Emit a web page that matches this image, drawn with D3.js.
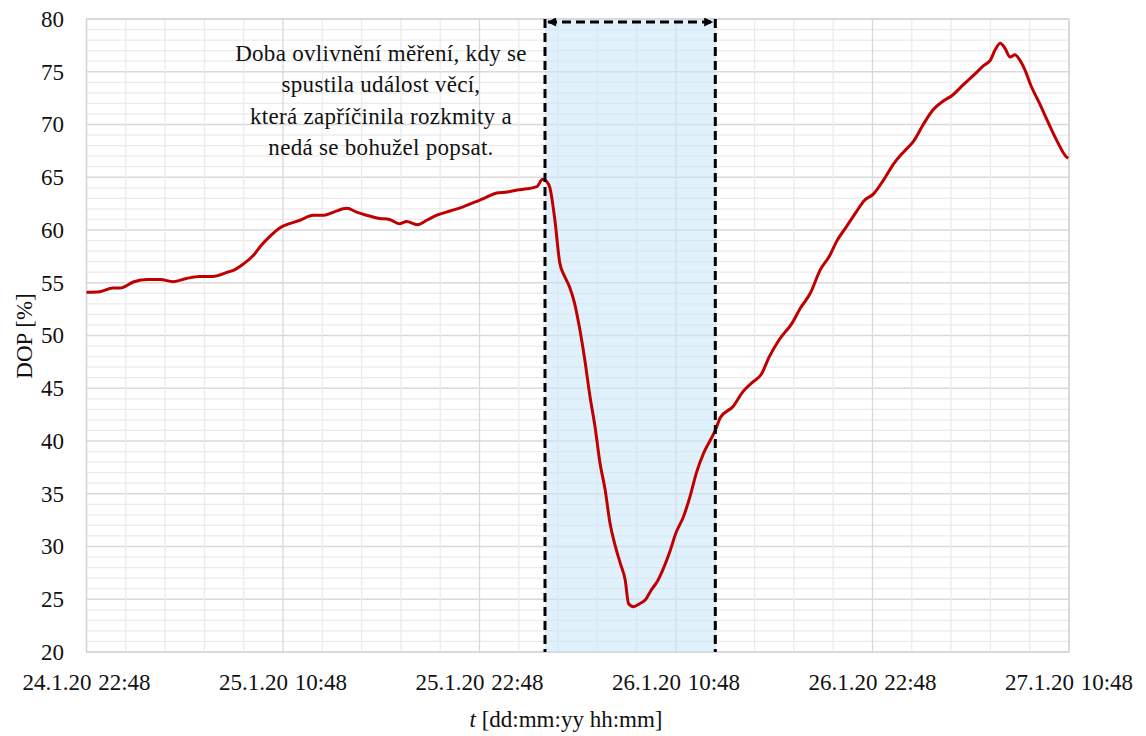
<!DOCTYPE html>
<html>
<head>
<meta charset="utf-8">
<script src="https://cdn.jsdelivr.net/npm/d3@7"></script>
<style>
  body { margin: 0; background: #fff; }
</style>
</head>
<body>
<div id="chart"></div>
<script>
// hours after 24.1.20 22:48
var hours = [0, 0.8, 1.6, 2.05, 2.9, 3.7, 4.5, 5.3, 6.1, 6.9, 7.7, 8.6, 9.0, 9.6, 10.2, 10.7, 11.2, 11.8,
  12.4, 13.0, 13.85, 14.5, 15.1, 15.9, 16.5, 17.1, 17.9, 18.5, 19.1, 19.55, 20.2, 20.8, 21.4, 22.2, 23.0,
  23.8, 24.4, 25.05, 25.7, 26.3, 26.9, 27.5, 27.85, 28.1, 28.3, 28.6, 28.9, 29.2, 29.5, 29.8, 30.1, 30.4,
  30.75, 31.05, 31.36, 31.67, 31.97, 32.3, 32.6, 32.9, 33.1, 33.4, 33.8, 34.1, 34.5, 34.9, 35.2, 35.6,
  36.0, 36.45, 36.85, 37.25, 37.7, 38.1, 38.4, 38.7, 39.5, 40.1, 40.7, 41.2, 41.7, 42.3, 43.1, 43.6,
  44.2, 44.8, 45.4, 45.8, 46.4, 47.0, 47.5, 48.05, 48.7, 49.3, 49.9, 50.5, 51.1, 51.7, 52.3, 52.9,
  53.5, 54.2, 54.8, 55.2, 55.5, 55.8, 56.1, 56.4, 56.7, 57.0, 57.3, 57.7, 58.2, 58.7, 59.25, 59.86, 59.95];
var dop = [54.1, 54.15, 54.5, 54.5, 55.1, 55.3, 55.3, 55.1, 55.4, 55.6, 55.6, 56.0, 56.2, 56.8, 57.6, 58.6, 59.4, 60.2,
  60.6, 60.9, 61.4, 61.4, 61.7, 62.05, 61.7, 61.4, 61.1, 61.0, 60.6, 60.8, 60.5, 60.95, 61.4, 61.8, 62.2,
  62.7, 63.1, 63.5, 63.6, 63.8, 63.9, 64.1, 64.8, 64.6, 64.0, 61.0, 56.9, 55.6, 54.6, 53.1, 50.8, 48.0,
  44.2, 41.4, 37.9, 35.4, 32.2, 30.0, 28.4, 26.8, 24.6, 24.3, 24.6, 24.9, 25.9, 26.8, 27.8, 29.4,
  31.3, 32.8, 34.7, 37.0, 38.9, 40.1, 41.0, 42.2, 43.3, 44.7, 45.6, 46.3, 48.0, 49.6, 51.2, 52.6,
  54.0, 56.2, 57.6, 58.9, 60.3, 61.7, 62.8, 63.4, 64.8, 66.3, 67.4, 68.4, 70.0, 71.4, 72.2, 72.8,
  73.7, 74.7, 75.6, 76.1, 77.1, 77.7, 77.2, 76.4, 76.6, 76.1, 75.2, 73.6, 72.0, 70.3, 68.5, 66.9, 66.8];

var xTickLabels = ["24.1.20 22:48", "25.1.20 10:48", "25.1.20 22:48", "26.1.20 10:48", "26.1.20 22:48", "27.1.20 10:48"];
var yTicks = [20, 25, 30, 35, 40, 45, 50, 55, 60, 65, 70, 75, 80];
var eventSpan = [28.0, 38.4]; // hours
var noteLines = ["Doba ovlivnění měření, kdy se", "spustila událost věcí,", "která zapříčinila rozkmity a", "nedá se bohužel popsat."];

var width = 1146, height = 736;
var margin = {top: 19, right: 77, bottom: 84, left: 86.5};
var serif = '"Liberation Serif", "Times New Roman", "DejaVu Serif", serif';

var svg = d3.select('#chart').append('svg')
    .attr('width', width)
    .attr('height', height)
    .attr('font-family', serif);

var x = d3.scaleLinear().domain([0, 60]).range([margin.left, width - margin.right]);
var y = d3.scaleLinear().domain([20, 80]).range([height - margin.bottom, margin.top]);

var grid = svg.append('g');
grid.selectAll('.hmin').data(d3.range(20, 81, 1)).enter().append('line')
    .attr('x1', x(0)).attr('x2', x(60))
    .attr('y1', d => y(d)).attr('y2', d => y(d))
    .attr('stroke', d => d % 5 === 0 ? '#d9d9d9' : '#ebebeb')
    .attr('stroke-width', 1.3);
grid.selectAll('.vmin').data(d3.range(0, 60.01, 2.4)).enter().append('line')
    .attr('x1', d => x(d)).attr('x2', d => x(d))
    .attr('y1', y(20)).attr('y2', y(80))
    .attr('stroke', (d, i) => i % 5 === 0 ? '#d9d9d9' : '#ebebeb')
    .attr('stroke-width', 1.3);
grid.append('rect')
    .attr('x', x(0)).attr('y', y(80))
    .attr('width', x(60) - x(0)).attr('height', y(20) - y(80))
    .attr('fill', 'none').attr('stroke', '#d4d4d4').attr('stroke-width', 1.3);

// shaded event region
svg.append('rect')
    .attr('x', x(eventSpan[0])).attr('y', y(80))
    .attr('width', x(eventSpan[1]) - x(eventSpan[0]))
    .attr('height', y(20) - y(80))
    .attr('fill', '#c6e5f8')
    .attr('fill-opacity', 0.55);

// data line
var line = d3.line()
    .x((d, i) => x(hours[i]))
    .y(d => y(d))
    .curve(d3.curveMonotoneX);
svg.append('path')
    .datum(dop)
    .attr('d', line)
    .attr('fill', 'none')
    .attr('stroke', '#c00000')
    .attr('stroke-width', 3)
    .attr('stroke-linejoin', 'round');

// dashed borders
svg.selectAll('.vdash').data(eventSpan).enter().append('line')
    .attr('x1', d => x(d)).attr('x2', d => x(d))
    .attr('y1', y(80)).attr('y2', y(20))
    .attr('stroke', '#000')
    .attr('stroke-width', 3)
    .attr('stroke-dasharray', '9,5');

var defs = svg.append('defs');
defs.append('marker').attr('id', 'arr')
    .attr('viewBox', '0 0 10 10').attr('refX', 9).attr('refY', 5)
    .attr('markerWidth', 11).attr('markerHeight', 9)
    .attr('markerUnits', 'userSpaceOnUse')
    .attr('orient', 'auto-start-reverse')
    .append('path').attr('d', 'M0,0 L10,5 L0,10 Z').attr('fill', '#000');

svg.append('line')
    .attr('x1', x(eventSpan[0]) + 3).attr('x2', x(eventSpan[1]) - 3)
    .attr('y1', y(80) + 3).attr('y2', y(80) + 3)
    .attr('stroke', '#000').attr('stroke-width', 3)
    .attr('stroke-dasharray', '9,5')
    .attr('marker-start', 'url(#arr)')
    .attr('marker-end', 'url(#arr)');

// annotation
svg.append('text')
    .attr('text-anchor', 'middle')
    .attr('font-size', 23)
    .attr('letter-spacing', 0.3)
    .attr('fill', '#111')
    .selectAll('tspan').data(noteLines).enter().append('tspan')
    .attr('x', 381)
    .attr('y', (d, i) => 61 + i * 31.3)
    .text(d => d);

// y axis labels
svg.append('g').selectAll('text').data(yTicks).enter().append('text')
    .attr('x', 64)
    .attr('y', d => y(d))
    .attr('dy', '0.34em')
    .attr('text-anchor', 'end')
    .attr('font-size', 23)
    .attr('fill', '#111')
    .text(d => d);

// x axis labels
svg.append('g').selectAll('text').data(xTickLabels).enter().append('text')
    .attr('x', (d, i) => x(i * 12))
    .attr('y', 690)
    .attr('text-anchor', 'middle')
    .attr('font-size', 23)
    .attr('word-spacing', 1)
    .attr('fill', '#111')
    .text(d => d);

// axis titles
var xt = svg.append('text')
    .attr('x', 566).attr('y', 727)
    .attr('text-anchor', 'middle')
    .attr('font-size', 23)
    .attr('fill', '#111');
xt.append('tspan').attr('font-style', 'italic').text('t');
xt.append('tspan').text(' [dd:mm:yy hh:mm]');

svg.append('text')
    .attr('transform', 'translate(32,336) rotate(-90)')
    .attr('text-anchor', 'middle')
    .attr('font-size', 23)
    .attr('fill', '#111')
    .text('DOP [%]');
</script>
</body>
</html>
